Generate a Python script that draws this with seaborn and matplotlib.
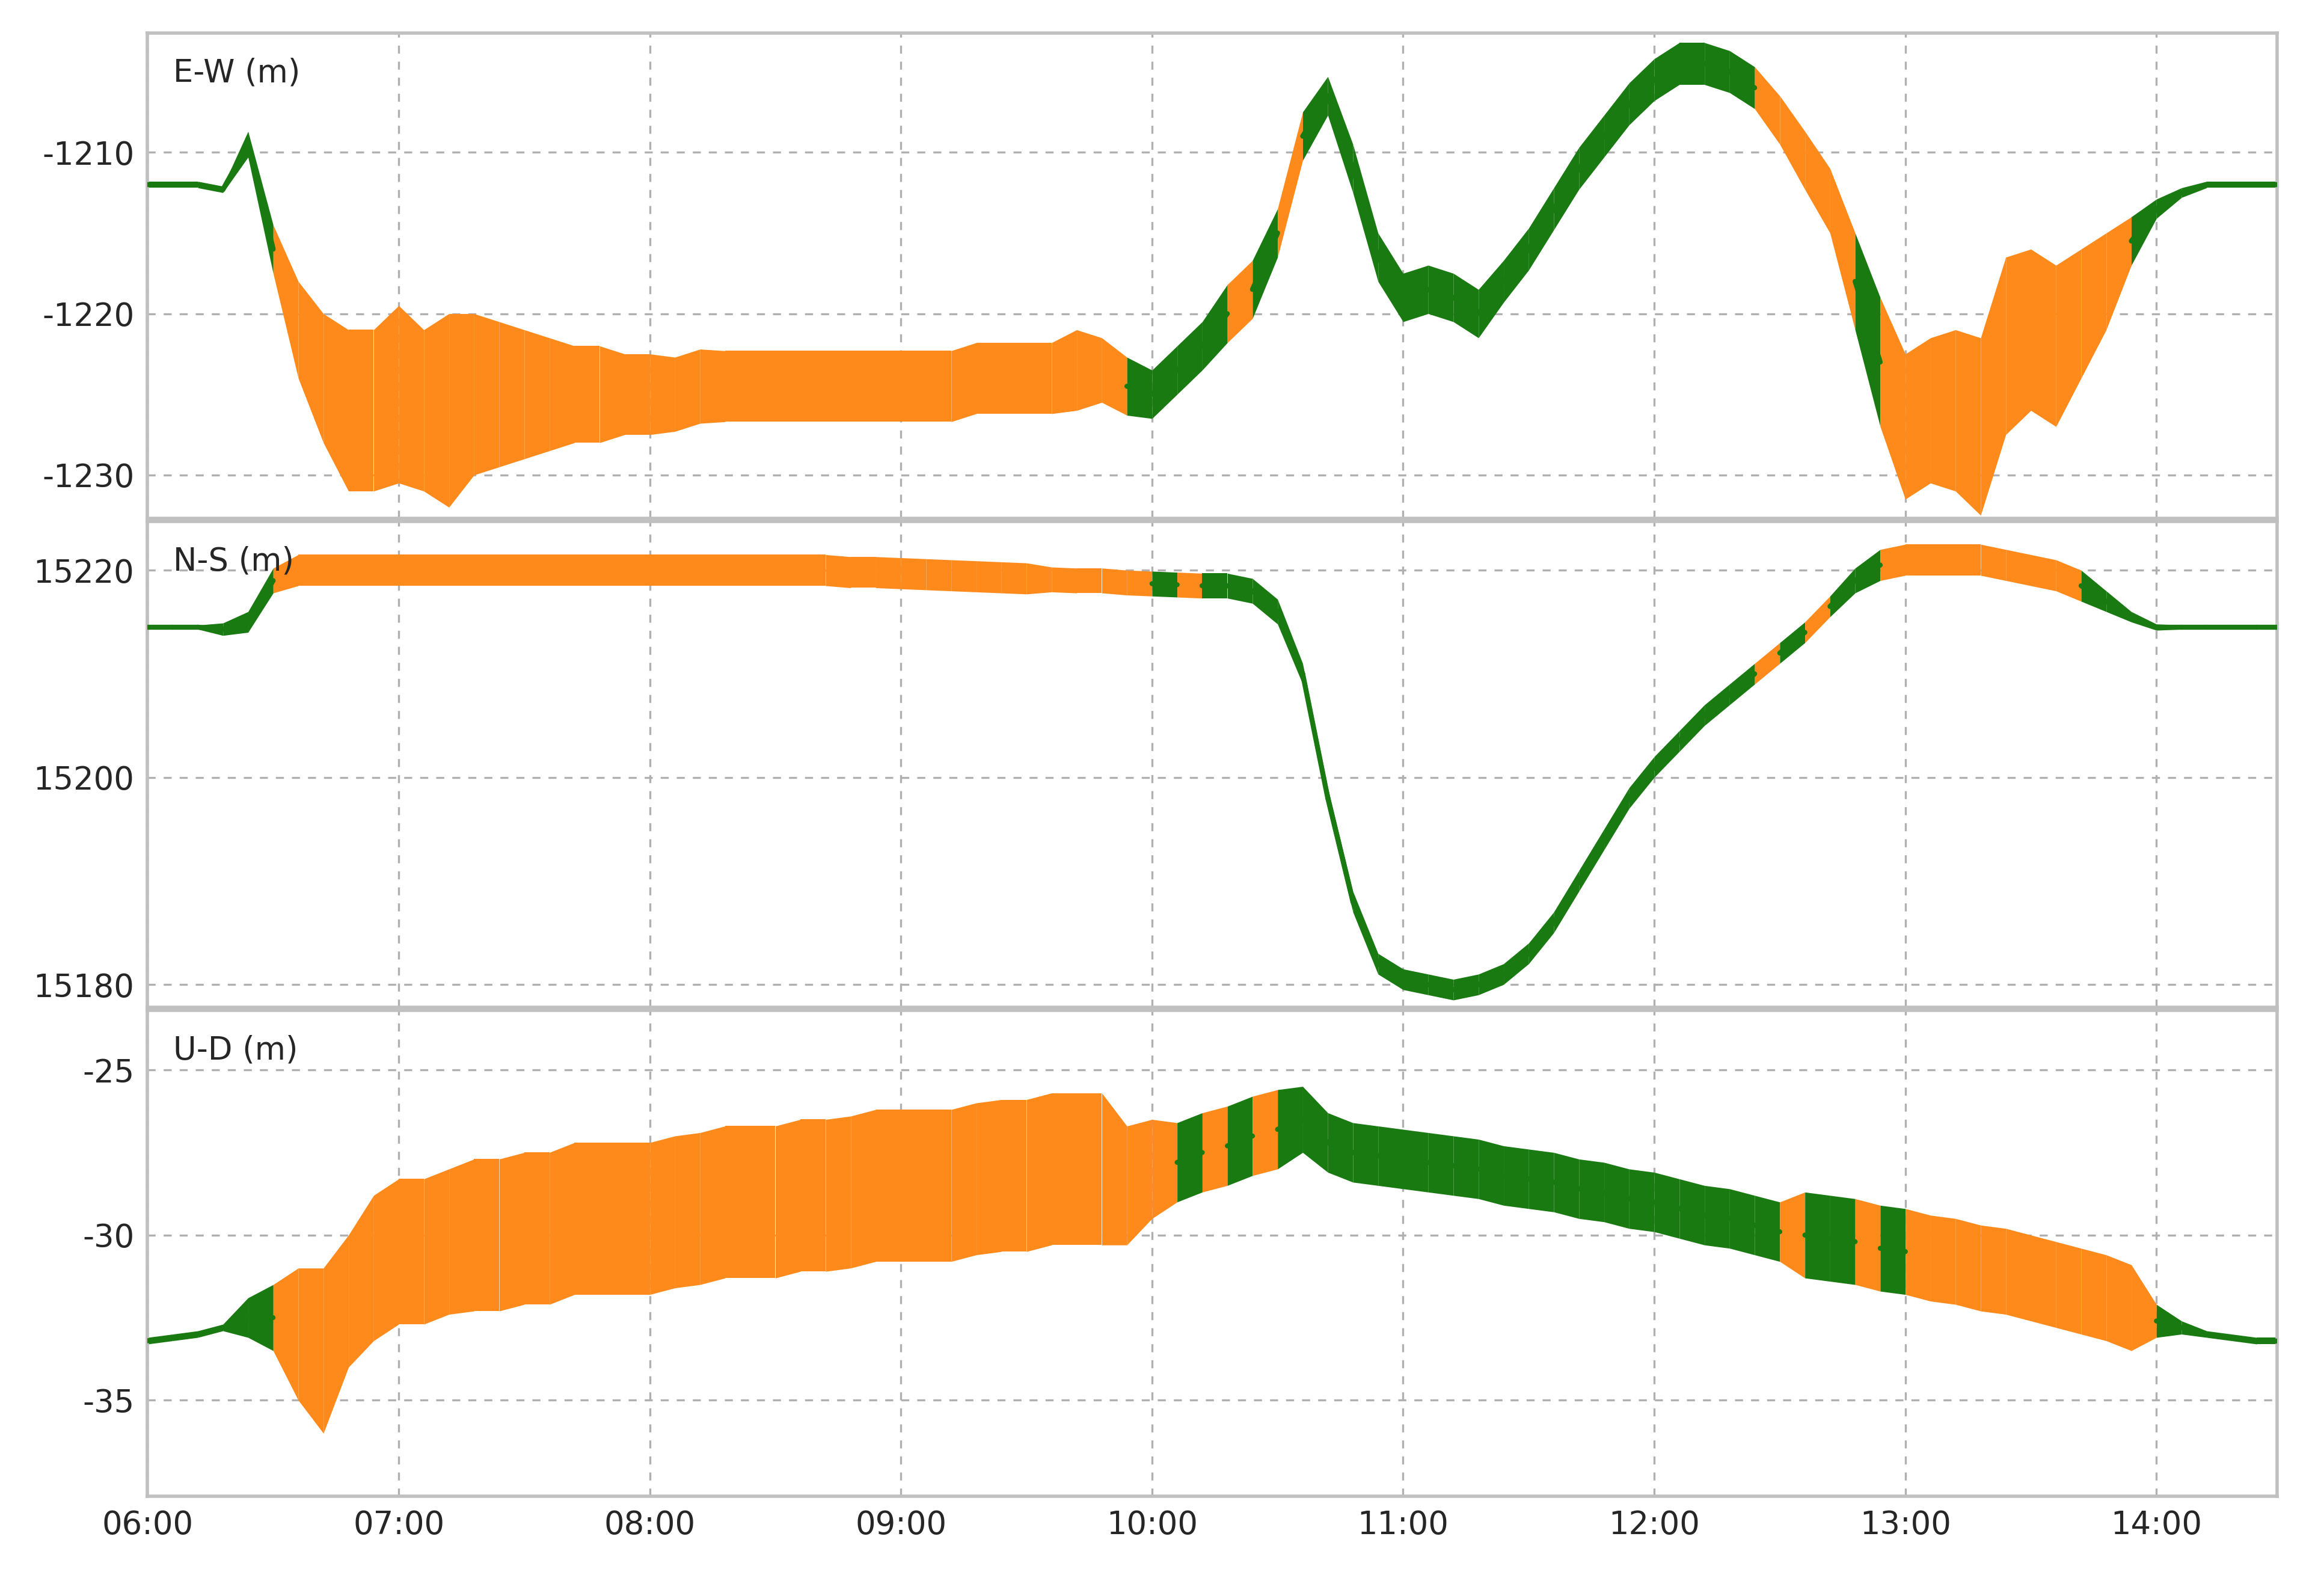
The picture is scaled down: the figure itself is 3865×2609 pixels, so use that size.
import numpy as np
import matplotlib
matplotlib.use("Agg")
import matplotlib.pyplot as plt
import seaborn as sns
import pandas as pd

sns.set_theme(style="white")
plt.rcParams['font.family'] = ['DejaVu Sans']

# time in hours, 6-minute samples
hours = np.arange(60, 146) / 10.0

ew_center = [-1212,-1212,-1212,-1212.3,-1209.5,-1216,-1221,-1224,-1226,-1226,
             -1225,-1226,-1226,-1225,-1225,-1225,-1225,-1225,-1225,-1225,
             -1225,-1225,-1224.5,-1224.5,-1224.5,-1224.5,-1224.5,-1224.5,-1224.5,-1224.5,
             -1224.5,-1224.5,-1224.5,-1224,-1224,-1224,-1224,-1223.5,-1223.5,-1224.5,
             -1225,-1223.5,-1222,-1220,-1218.5,-1215,-1209,-1206.5,-1211,-1216.5,
             -1219,-1218.5,-1219,-1220,-1218,-1216,-1213.5,-1211,-1209,-1207,
             -1205.5,-1204.5,-1204.5,-1205,-1206,-1208,-1210.5,-1213,-1218,-1223,
             -1227,-1226,-1226,-1227,-1222,-1221,-1222,-1220,-1218,-1215.5,
             -1213.5,-1212.5,-1212,-1212,-1212,-1212]
ew_spread = [0.2,0.2,0.2,0.2,0.8,1.5,3,4,5,5,
             5.5,5,6,5,4.5,4,3.5,3,3,2.5,
             2.5,2.3,2.3,2.2,2.2,2.2,2.2,2.2,2.2,2.2,
             2.2,2.2,2.2,2.2,2.2,2.2,2.2,2.5,2.0,1.8,
             1.5,1.5,1.5,1.8,1.8,1.5,1.5,1.2,1.5,1.5,
             1.5,1.5,1.5,1.5,1.3,1.3,1.3,1.3,1.3,1.3,
             1.3,1.3,1.3,1.3,1.3,1.5,1.8,2,3,4,
             4.5,4.5,5,5.5,5.5,5,5,4,3,1.5,
             0.6,0.3,0.2,0.2,0.2,0.2]
ew_color = "g"*5 + "o"*34 + "g"*4 + "ogo" + "g"*18 + "oooo" + "go" + "o"*9 + "g"*7

ns_center = [15214.5,15214.5,15214.5,15214.3,15215,15219,15220,15220,15220,15220,
             15220,15220,15220,15220,15220,15220,15220,15220,15220,15220,
             15220,15220,15220,15220,15220,15220,15220,15220,15219.8,15219.8,
             15219.7,15219.6,15219.5,15219.4,15219.3,15219.2,15219.1,15219,15219,15218.8,
             15218.7,15218.6,15218.5,15218.5,15218,15216,15210,15198,15188,15182,
             15180.5,15180,15179.5,15180,15181,15183,15186,15190,15194,15198,
             15201,15203.5,15206,15208,15210,15212,15214,15216.5,15219,15220.5,
             15221,15221,15221,15221,15220.5,15220,15219.5,15218.5,15217,15215.5,
             15214.5,15214.5,15214.5,15214.5,15214.5,15214.5]
ns_spread = [0.2,0.2,0.2,0.6,1.0,1.2] + [1.5]*30 + [1.2]*10 + [1.0]*22 + [1.2] + [1.5]*9 + [1.0,0.5,0.3,0.2,0.2,0.2,0.2,0.2]
ns_color = "g"*5 + "o"*35 + "gogg" + "g"*20 + "ogog" + "g" + "o"*8 + "g"*9

ud_center = [-33.2,-33.1,-33.0,-32.8,-32.5,-32.5,-33,-33.5,-32,-31,
             -30.5,-30.5,-30.2,-30,-30,-29.8,-29.8,-29.5,-29.5,-29.5,
             -29.5,-29.3,-29.2,-29,-29,-29,-28.8,-28.8,-28.7,-28.5,
             -28.5,-28.5,-28.5,-28.3,-28.2,-28.2,-28,-28,-28,-28.5,
             -28,-27.8,-27.5,-27.3,-27,-26.8,-26.5,-27.2,-27.5,-27.6,
             -27.7,-27.8,-27.9,-28.0,-28.2,-28.3,-28.4,-28.6,-28.7,-28.9,
             -29,-29.2,-29.4,-29.5,-29.7,-29.9,-30.0,-30.1,-30.2,-30.4,
             -30.5,-30.7,-30.8,-31.0,-31.1,-31.3,-31.5,-31.7,-31.9,-32.2,
             -32.6,-32.8,-33,-33.1,-33.2,-33.2]
ud_spread = [0.1,0.1,0.1,0.1,0.6,1,2,2.5,2,2.2,
             2.2,2.2,2.2] + [2.3]*26 + [1.8,1.5,1.2,1.2,1.2,1.2,1.2,1.0] + [0.9]*19 + [1.3]*14 + [0.5,0.2,0.1,0.1,0.1,0.1]
ud_color = "g"*5 + "o"*36 + "gogo" + "g"*20 + "o" + "gg" + "o" + "g" + "o"*10 + "g"*6

panels = [("E-W (m)", ew_center, ew_spread, ew_color, (-1232.7, -1202.6), [-1210, -1220, -1230]),
          ("N-S (m)", ns_center, ns_spread, ns_color, (15177.8, 15224.7), [15220, 15200, 15180]),
          ("U-D (m)", ud_center, ud_spread, ud_color, (-37.9, -23.2), [-25, -30, -35])]

GREEN = "#1a7a12"
ORANGE = "#ff8a1c"

fig = plt.figure(figsize=(19.33, 13.045), dpi=200)
boxes = [(0.0635, 0.6695, 0.916, 0.3095), (0.0635, 0.358, 0.916, 0.3096), (0.0635, 0.0465, 0.916, 0.3095)]

for (label, c, s, col, ylim, yt), box in zip(panels, boxes):
    ax = fig.add_axes(box)
    c = np.array(c, float); s = np.array(s, float)
    n = min(len(hours), len(c), len(s), len(col))
    for i in range(n - 1):
        color = ORANGE if col[i] == 'o' else GREEN
        seg = slice(i, i + 2)
        ax.fill_between(hours[seg], (c - s)[seg], (c + s)[seg], color=color, lw=0, zorder=2)
    # green centre line segments only where the band is green
    rows = []
    for i in range(n - 1):
        if col[i] == 'g':
            rows.append({"t": hours[i], "v": c[i], "u": i})
            rows.append({"t": hours[i + 1], "v": c[i + 1], "u": i})
    df = pd.DataFrame(rows)
    sns.lineplot(data=df, x="t", y="v", units="u", estimator=None, ax=ax,
                 color=GREEN, lw=3, zorder=3, sort=False)
    ax.set_xlim(6.0, 14.48)
    ax.set_ylim(*ylim)
    ax.set_yticks(yt)
    ax.set_yticklabels([str(v) for v in yt], fontsize=19)
    ax.set_xticks(range(6, 15))
    ax.grid(True, ls=(0, (4, 4)), color="#b0b0b0", lw=1.2, zorder=0)
    ax.set_xlabel(""); ax.set_ylabel("")
    ax.tick_params(axis="both", length=0, pad=8)
    for sp in ax.spines.values():
        sp.set_color("#c0c0c0"); sp.set_linewidth(2)
    ax.text(0.012, 0.95, label, transform=ax.transAxes, fontsize=19, va="top", ha="left", zorder=5)
    if label != "U-D (m)":
        ax.set_xticklabels([])
    else:
        ax.set_xticklabels([f"{h:02d}:00" for h in range(6, 15)], fontsize=19)

fig.savefig("out.png", dpi=200, facecolor="white")
